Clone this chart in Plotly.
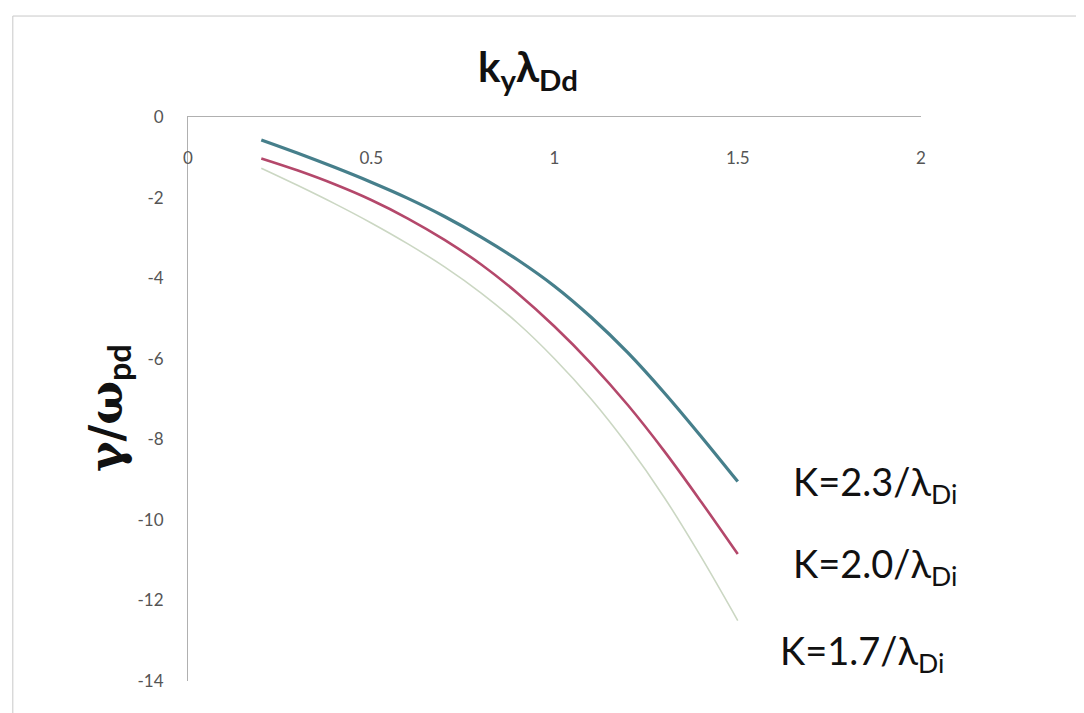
import plotly.graph_objects as go

# ---- data ----
x_vals = [0.2, 0.3, 0.4, 0.5, 0.6, 0.7, 0.8, 0.9, 1.0, 1.1, 1.2, 1.3, 1.4, 1.5]
k23 = [-0.57, -0.9, -1.25, -1.62, -2.02, -2.47, -2.98, -3.55, -4.2, -4.97, -5.85, -6.85, -7.93, -9.05]
k20 = [-1.03, -1.33, -1.67, -2.06, -2.52, -3.05, -3.66, -4.38, -5.2, -6.12, -7.15, -8.3, -9.55, -10.85]
k17 = [-1.27, -1.7, -2.15, -2.63, -3.15, -3.72, -4.37, -5.12, -6.0, -7.0, -8.15, -9.45, -10.92, -12.5]

x_ticks = [0, 0.5, 1, 1.5, 2]
x_ticktext = ["0", "0.5", "1", "1.5", "2"]
y_ticks = [0, -2, -4, -6, -8, -10, -12, -14]
y_ticktext = ["0", "-2", "-4", "-6", "-8", "-10", "-12", "-14"]

labels = ["K=2.3/λ<sub>Di</sub>", "K=2.0/λ<sub>Di</sub>", "K=1.7/λ<sub>Di</sub>"]
label_x = [1.645, 1.645, 1.61]
label_y = [-9.1, -11.15, -13.3]

series = [
    (k23, "#467f8b", 3.2, "x"),
    (k20, "#b4486b", 2.6, "x"),
    (k17, "#cbd7c3", 1.6, "x2"),
]

fig = go.Figure()
for ys, col, w, xa in series:
    fig.add_trace(go.Scatter(x=x_vals, y=ys, mode="lines", xaxis=xa, yaxis="y",
                             line=dict(color=col, width=w, shape="spline", smoothing=1.0),
                             showlegend=False))

for t, lx, ly in zip(labels, label_x, label_y):
    fig.add_annotation(x=lx, y=ly, xref="x", yref="y", text=t, showarrow=False,
                       xanchor="left", yanchor="middle",
                       font=dict(family="Lato, Open Sans, sans-serif", size=38, color="#111111"))

# axis titles
fig.add_annotation(x=0.464, y=1.085, xref="paper", yref="paper",
                   text="<b>k<sub>y</sub>λ<sub>Dd</sub></b>", showarrow=False,
                   xanchor="center", yanchor="middle",
                   font=dict(family="Lato, Open Sans, sans-serif", size=42, color="#111111"))
fig.add_annotation(x=-0.108, y=0.484, xref="paper", yref="paper",
                   text="<b>γ/ω<sub><span style='font-family:Lato'>pd</span></sub></b>",
                   showarrow=False, textangle=-90,
                   xanchor="center", yanchor="middle",
                   font=dict(family="DejaVu Serif, serif", size=46, color="#111111"))

# outer frame (top and left edges)
fig.add_shape(type="line", xref="paper", yref="paper", x0=-0.239, x1=1.23, y0=1.179, y1=1.179,
              line=dict(color="#c8c8c8", width=1))
fig.add_shape(type="line", xref="paper", yref="paper", x0=-0.239, x1=-0.239, y0=-0.06, y1=1.179,
              line=dict(color="#c8c8c8", width=1))

tick_font = dict(family="Lato, Open Sans, sans-serif", size=17, color="#555555")

fig.update_layout(
    width=1084, height=713,
    margin=dict(l=180, r=171, t=109, b=40),
    paper_bgcolor="white", plot_bgcolor="white",
    xaxis=dict(range=[0, 2], side="top", showline=True, linecolor="#b0b0b0", linewidth=1,
               showgrid=False, zeroline=False, ticks="", showticklabels=False),
    xaxis2=dict(range=[0, 2], overlaying="x", anchor="free", position=0.948, side="bottom",
                tickvals=x_ticks, ticktext=x_ticktext, showline=False, showgrid=False,
                zeroline=False, ticks="", tickfont=tick_font),
    yaxis=dict(range=[-14, 0], tickvals=y_ticks, ticktext=y_ticktext, showline=True,
               linecolor="#b0b0b0", linewidth=1, showgrid=False, zeroline=False, ticks="",
               ticklabelstandoff=20, tickfont=tick_font),
)

fig.write_html("out.html")
